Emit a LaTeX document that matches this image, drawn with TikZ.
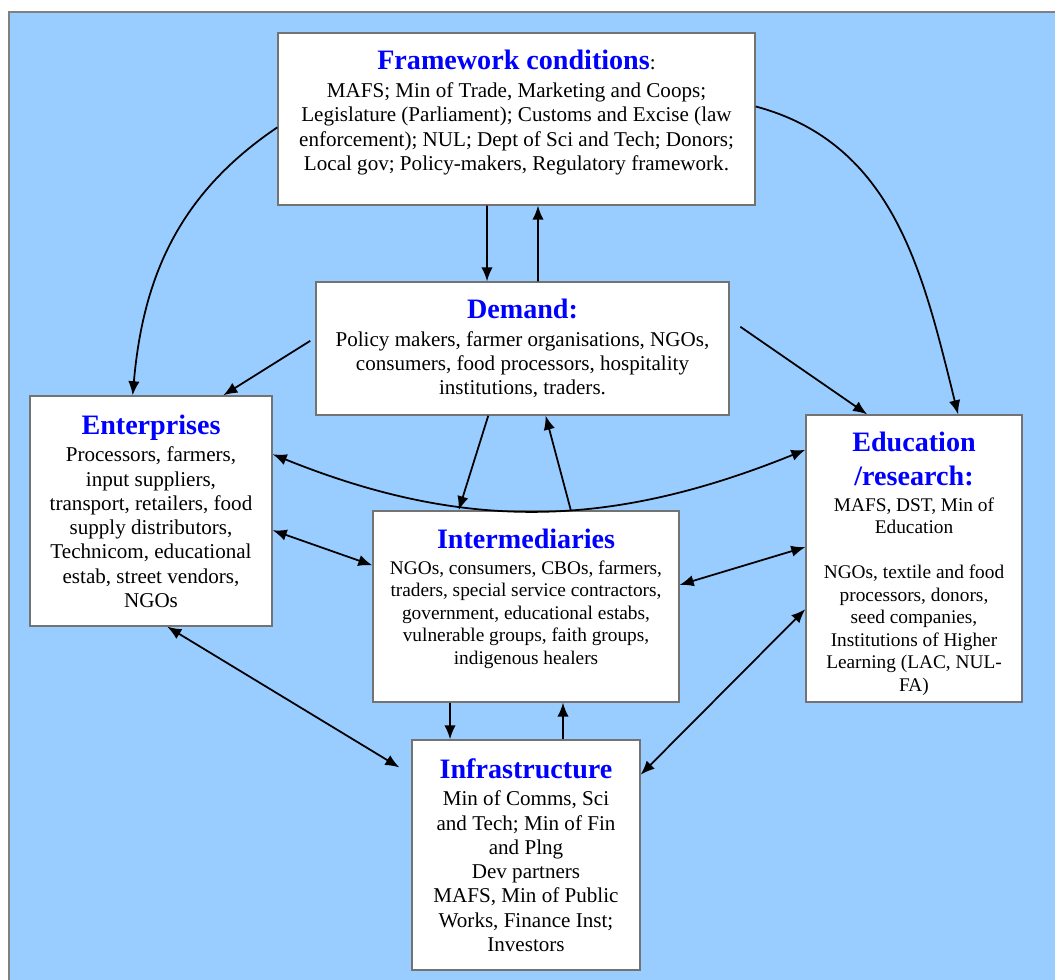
\documentclass[tikz,border=0pt]{standalone}
\usepackage{fontspec}
\setmainfont{Liberation Serif}
\usepackage{tikz}
\usetikzlibrary{arrows.meta}

\definecolor{skyblue}{HTML}{99CCFF}
\newcommand{\boxtitle}[1]{{\fontsize{16}{18}\selectfont\bfseries\color{blue}#1}}

\begin{document}
\begin{tikzpicture}[->,>={Latex[length=8pt,width=6.5pt]},line width=1pt,x=0.02cm,y=-0.02cm]
				\tikzstyle{box}=[draw=gray!90!black,line width=0.8pt,fill=white,align=center,inner sep=2pt,
						font=\fontsize{12}{13.8}\selectfont]
				\tikzstyle{small}=[font=\fontsize{11}{12.8}\selectfont]

				% background
				\useasboundingbox (0,0) rectangle (1055,980);
				\fill[skyblue] (9,12) rectangle (1055,980);
				\draw[-,gray,line width=0.8pt] (9,980) -- (9,12) -- (1055,12);

				\node[box,minimum width=9.54cm,minimum height=3.44cm]	(F)	at (516.5,119)
					{\boxtitle{Framework conditions}:\\[2pt] MAFS; Min of Trade, Marketing and Coops;\\ Legislature (Parliament); Customs and Excise (law\\ enforcement); NUL; Dept of Sci and Tech; Donors;\\ Local gov; Policy-makers, Regulatory framework.\\[-4pt]\mbox{}};
				\node[box,minimum width=8.26cm,minimum height=2.66cm]	(D)	at (522.5,348.5)
					{\boxtitle{Demand:}\\[2pt] Policy makers, farmer organisations, NGOs,\\ consumers, food processors, hospitality\\ institutions, traders.};
				\node[box,minimum width=4.84cm,minimum height=4.6cm]	(E)	at (151,511)
					{\boxtitle{Enterprises}\\[2pt] Processors, farmers,\\ input suppliers,\\ transport, retailers, food\\ supply distributors,\\ Technicom, educational\\ estab, street vendors,\\ NGOs};
				\node[box,small,minimum width=6.12cm,minimum height=3.82cm]	(M)	at (526,606.5)
					{\boxtitle{Intermediaries}\\[2pt] NGOs, consumers, CBOs, farmers,\\ traders, special service contractors,\\ government, educational estabs,\\ vulnerable groups, faith groups,\\ indigenous healers\\[-1.4pt]\mbox{}};
				\node[box,small,minimum width=4.32cm,minimum height=5.74cm]	(R)	at (914,558.5)
					{\rule{0pt}{17pt}\boxtitle{Education}\\[6.5pt] \boxtitle{/research:}\\[2pt] MAFS, DST, Min of\\ Education\\[12.8pt] NGOs, textile and food\\ processors, donors,\\ seed companies,\\ Institutions of Higher\\ Learning (LAC, NUL-\\ FA)};
				\node[box,minimum width=4.56cm,minimum height=4.6cm]	(I)	at (526,855)
					{\boxtitle{Infrastructure}\\[2pt] Min of Comms, Sci\\ and Tech; Min of Fin\\ and Plng\\ Dev partners\\ MAFS, Min of Public\\ Works, Finance Inst;\\ Investors};

				\path	(F.182)	edge	[out=214,in=85]	(E.99)
					(F.3)	edge	[out=-15,in=104]	(R.73)
					([xshift=-0.59cm]F.south)	edge	([xshift=-0.71cm]D.north)
					([xshift=0.31cm]D.north)	edge	([xshift=0.43cm]F.south)
					(D.177)	edge	[shorten <=0.12cm]	(E.58)
					(D.8)	edge	[shorten <=0.26cm]	(R.108)
					(D.243)	edge	(M.125)
					(M.65)	edge	(D.289)
					(E.25)	edge	[<->,out=-22,in=202]	(R.135)
					(E.351)	edge	[<->]	(M.165)
					(R.174)	edge	[<->]	(M.8)
					(E.278)	edge	[<->,shorten >=0.28cm]	(I.145)
					(R.205)	edge	[<->]	(I.35)
					([xshift=-1.52cm]M.south)	edge	([xshift=-1.52cm]I.north)
					([xshift=0.74cm]I.north)	edge	([xshift=0.74cm]M.south);
\end{tikzpicture}
\end{document}
